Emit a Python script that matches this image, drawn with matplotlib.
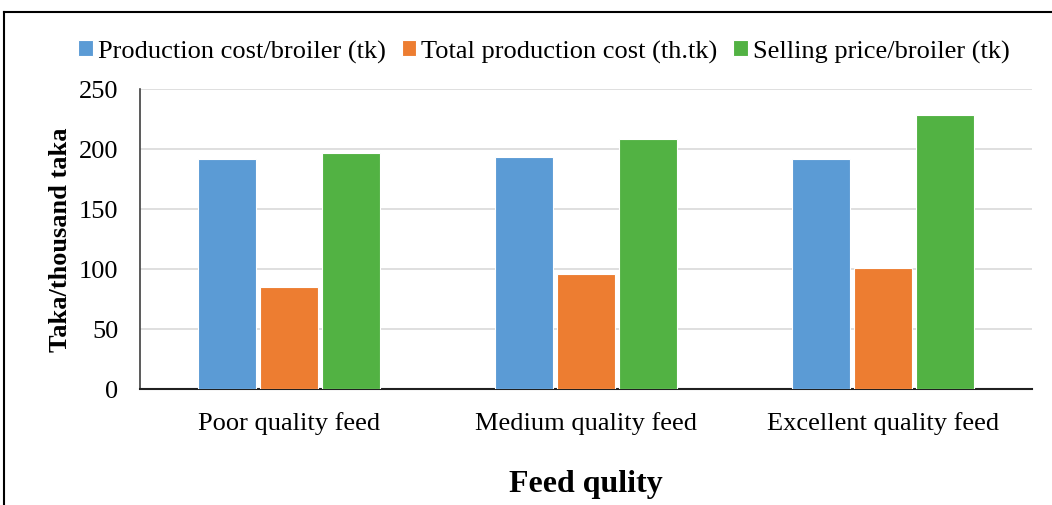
import matplotlib
matplotlib.use("Agg")
import matplotlib.pyplot as plt
import numpy as np
from matplotlib.lines import Line2D

categories = ["Poor quality feed", "Medium quality feed", "Excellent quality feed"]
series_names = ["Production cost/broiler (tk)", "Total production cost (th.tk)", "Selling price/broiler (tk)"]
prod_cost = [192, 193.5, 192]
total_cost = [85, 96, 101]
selling_price = [197, 208.5, 228.5]
colors = ["#5B9BD5", "#ED7D31", "#52B243"]
yticks = [0, 50, 100, 150, 200, 250]

plt.rcParams['font.family'] = ['Liberation Serif', 'DejaVu Serif']

W, H = 1052, 506
fig = plt.figure(figsize=(W/100, H/100), dpi=100)
ax = fig.add_axes([140/W, 1-390/H, (1032-140)/W, 300/H])

x = np.arange(len(categories))
bw = 0.195
off = 0.209
for i, (vals, c, n) in enumerate(zip([prod_cost, total_cost, selling_price], colors, series_names)):
    ax.bar(x + (i-1)*off, vals, bw, color=c, edgecolor="white", linewidth=0.8, label=n, zorder=3)

ax.set_xlim(-0.5, 2.5)
ax.set_ylim(0, 250)
ax.set_yticks(yticks)
ax.set_xticks(x)
ax.set_xticklabels(categories, fontsize=19)
ax.tick_params(axis='y', labelsize=19, length=0, pad=15.5)
ax.tick_params(axis='x', length=0, pad=16)
ax.grid(axis='y', color='#d9d9d9', linewidth=1.2, zorder=0)
for s in ['top', 'right']:
    ax.spines[s].set_visible(False)
ax.spines['left'].set_color('#404040')
ax.spines['left'].set_linewidth(1.2)
ax.spines['bottom'].set_color('#202020')
ax.spines['bottom'].set_linewidth(1.5)

ax.set_ylabel("Taka/thousand taka", fontsize=19, fontweight='bold', labelpad=5)
ax.set_xlabel("Feed qulity", fontsize=23, fontweight='bold', labelpad=25)

fig.legend(loc='center', bbox_to_anchor=(544/W, 1-52/H), ncol=3, frameon=False,
           fontsize=19, handlelength=0.55, handleheight=0.55, handletextpad=0.2,
           columnspacing=0.6, borderaxespad=0)

# outer border
fig.add_artist(Line2D([4/W, 4/W], [0, 1-13/H], transform=fig.transFigure, color='black', linewidth=1.5))
fig.add_artist(Line2D([4/W, 1], [1-13/H, 1-13/H], transform=fig.transFigure, color='black', linewidth=1.5))

fig.savefig("out.png", dpi=100)
